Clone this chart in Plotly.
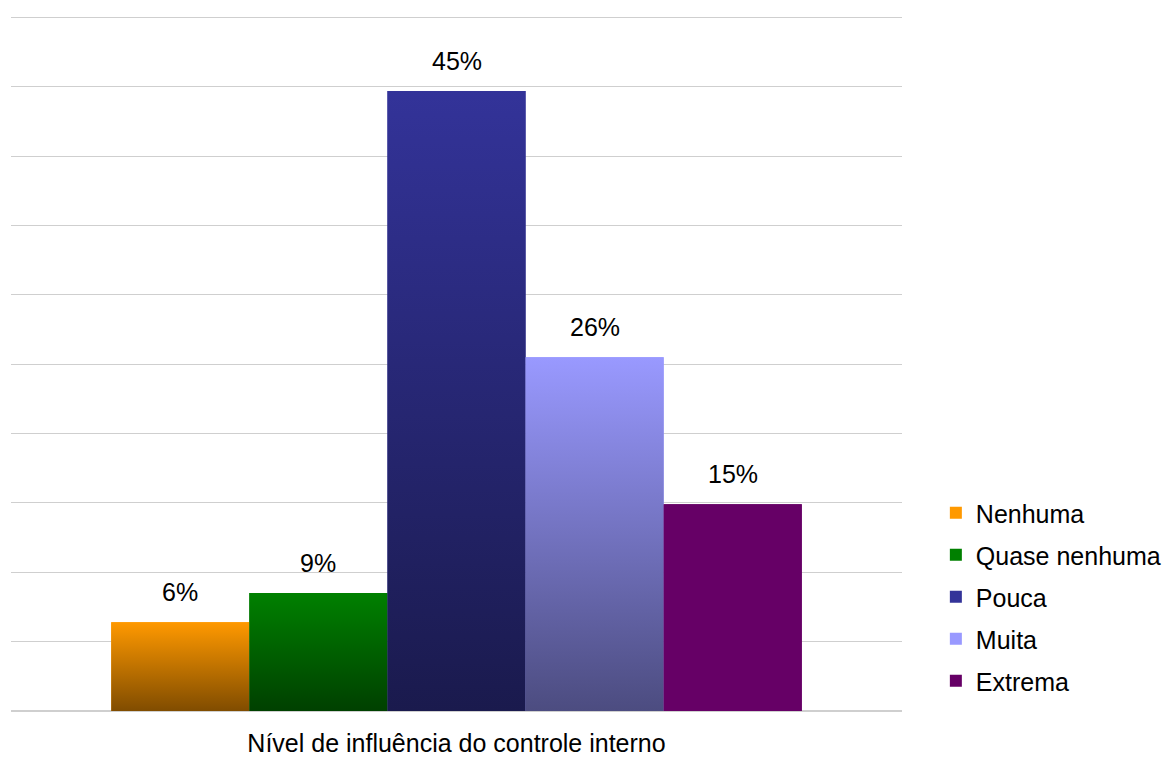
import plotly.graph_objects as go

categories = ["Nenhuma", "Quase nenhuma", "Pouca", "Muita", "Extrema"]
values = [6.4, 8.5, 44.7, 25.5, 14.9]
labels = ["6%", "9%", "45%", "26%", "15%"]
axis_label = "Nível de influência do controle interno"
top_colors = ["#FF9900", "#008000", "#333399", "#9999FF", "#660066"]
bottom_colors = ["#804C00", "#004000", "#1A1A4D", "#4C4C80", "#660066"]

FONT = "Liberation Sans, Arial, sans-serif"
BAR_W = 0.155
n = len(categories)

fig = go.Figure()
for i, (cat, v, top, bot) in enumerate(zip(categories, values, top_colors, bottom_colors)):
    x0 = (i - n / 2) * BAR_W
    fig.add_trace(go.Bar(
        x=[0], y=[v], name=cat, width=[BAR_W], offset=[x0],
        marker=dict(color=top, line=dict(width=0)),
        legendgroup=cat, showlegend=True,
    ))
    fig.add_trace(go.Scatter(
        x=[x0, x0 + BAR_W, x0 + BAR_W, x0, x0], y=[0, 0, v, v, 0],
        mode="lines", line=dict(width=0), fill="toself",
        fillgradient=dict(type="vertical", start=0, stop=v,
                          colorscale=[[0, bot], [1, top]]),
        showlegend=False, hoverinfo="skip", legendgroup=cat,
    ))
    fig.add_annotation(x=x0 + BAR_W / 2, y=v, text=labels[i], showarrow=False,
                       yanchor="bottom", yshift=14,
                       font=dict(family=FONT, size=25, color="#000000"))

fig.update_layout(
    width=1166, height=758,
    margin=dict(l=11, r=264, t=16, b=47, autoexpand=False),
    paper_bgcolor="white", plot_bgcolor="white",
    barmode="overlay",
    font=dict(family=FONT, size=25, color="#000000"),
    showlegend=True,
    legend=dict(x=1.038, xanchor="left", y=0.164, yanchor="middle",
                traceorder="grouped", tracegroupgap=6.5,
                font=dict(family=FONT, size=25, color="#000000"),
                bgcolor="rgba(0,0,0,0)"),
    xaxis=dict(range=[-0.5, 0.5], tickvals=[0], ticktext=[axis_label],
               showgrid=False, zeroline=False, showline=False, ticks="",
               ticklabelstandoff=15, automargin=False,
               tickfont=dict(family=FONT, size=25, color="#000000"), fixedrange=True),
    yaxis=dict(range=[0, 50.1], dtick=5, showticklabels=False, ticks="",
               showgrid=True, gridcolor="#cfcfcf", gridwidth=1,
               zeroline=True, zerolinecolor="#cfcfcf", zerolinewidth=2,
               showline=False, fixedrange=True, automargin=False),
)

fig.write_html("out.html", config={"displayModeBar": False},
               post_script="document.body.style.margin='0px';")
